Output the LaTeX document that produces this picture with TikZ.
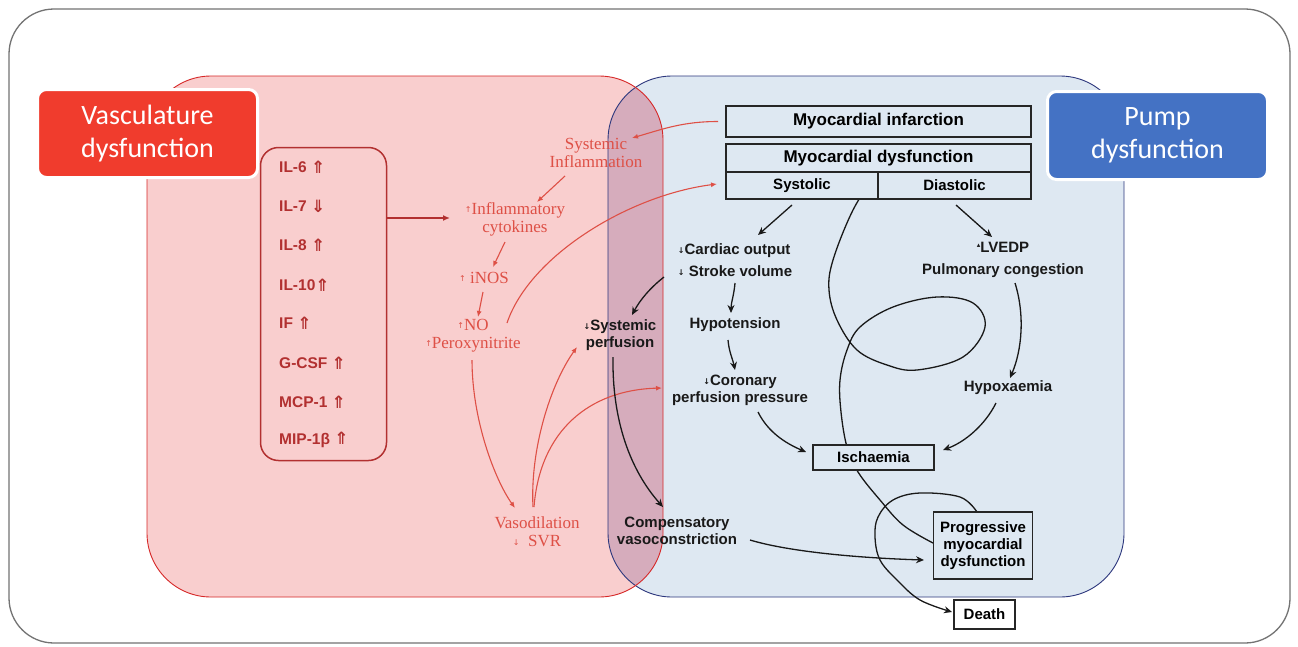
\documentclass[tikz,border=0pt]{standalone}
\usepackage{fontspec}
\setmainfont{Liberation Serif}
\newfontfamily\arialf{Liberation Sans}
\newfontfamily\labf{Carlito}
\newfontfamily\symf{DejaVu Sans}
\usetikzlibrary{arrows.meta,calc}
\pgfdeclarelayer{bg}
\pgfdeclarelayer{mid}
\pgfsetlayers{bg,mid,main}
\definecolor{pinkfill}{RGB}{249,206,206}
\definecolor{bluefill}{RGB}{222,232,242}
\definecolor{overlapc}{RGB}{214,172,188}
\definecolor{redline}{RGB}{214,40,40}
\definecolor{blueline}{RGB}{45,55,125}
\definecolor{labred}{RGB}{240,60,45}
\definecolor{labblue}{RGB}{68,114,196}
\definecolor{cytored}{RGB}{178,48,48}
\definecolor{salmon}{RGB}{222,80,70}
\definecolor{framec}{RGB}{115,115,115}
\newcommand{\myup}{\raisebox{2pt}{\symf\fontsize{8}{8}\selectfont ↑}}
\newcommand{\mydn}{\raisebox{1pt}{\symf\fontsize{8}{8}\selectfont ↓}}
\newcommand{\myuptri}{\raisebox{5pt}{\symf\fontsize{7}{7}\selectfont ▴}}
\newcommand{\dblup}{\raisebox{-0.5pt}{\symf\fontsize{17}{17}\selectfont ⇑}}
\newcommand{\dbldn}{\raisebox{-0.5pt}{\symf\fontsize{17}{17}\selectfont ⇓}}
\begin{document}
\begin{tikzpicture}[x=1pt,y=-1pt,
  box/.style={draw=black!85, line width=1.1pt, fill=bluefill, inner sep=0pt, outer sep=0pt,
    font=\arialf\bfseries\fontsize{15}{17}\selectfont, align=center},
  hbox/.style={box, font=\arialf\bfseries\fontsize{17}{19}\selectfont},
  blk/.style={font=\arialf\bfseries\fontsize{15}{17}\selectfont, align=center, inner sep=1pt, text=black!90},
  rtxt/.style={font=\fontsize{17}{18}\selectfont, text=salmon, align=center, inner sep=1pt},
  cyt/.style={font=\arialf\bfseries\fontsize{15.5}{17}\selectfont, text=cytored, anchor=west, inner sep=0pt},
  lab/.style={rounded corners=9pt, draw=white, line width=3pt, text=white,
    font=\labf\fontsize{28}{33}\selectfont, align=center, minimum width=220pt, minimum height=88pt, inner sep=0pt},
  rarr/.style={salmon, line width=1.1pt, -{Latex[length=6pt,width=5pt]}},
  barr/.style={black!90, line width=1.3pt, -{Stealth[length=8pt,width=7pt]}},
  bline/.style={black!90, line width=1.3pt}
]
\useasboundingbox (0,0) rectangle (1298,646);

\begin{pgfonlayer}{bg}
  \fill[white] (0,0) rectangle (1298,646);
  \draw[framec, line width=1.3pt, rounded corners=45pt] (9,9) rectangle (1290,643);
  \fill[pinkfill, rounded corners=64pt] (147,76) rectangle (663,597);
  \fill[bluefill, rounded corners=64pt] (608,76) rectangle (1124,597);
  \begin{scope}
    \clip[rounded corners=64pt] (147,76) rectangle (663,597);
    \fill[overlapc, rounded corners=64pt] (608,76) rectangle (1124,597);
  \end{scope}
  \draw[blueline, line width=0.9pt, rounded corners=64pt] (608,76) rectangle (1124,597);
  \draw[redline, line width=0.9pt, rounded corners=64pt] (147,76) rectangle (663,597);
\end{pgfonlayer}

% labels
\node[lab, fill=labred] (vlab) at (147.5,133.5) {Vasculature\\dysfunction};
\node[lab, fill=labblue] (plab) at (1157.5,135.5) {Pump\\dysfunction};

% cytokine box
\node[draw=cytored, line width=1.5pt, rounded corners=18pt, minimum width=126pt, minimum height=313pt, inner sep=0pt] (cyto) at (323.5,304) {};
\node[cyt] (c1) at (279,167) {IL-6 \dblup};
\node[cyt] (c2) at (279,206) {IL-7 \dbldn};
\node[cyt] (c3) at (279,245) {IL-8 \dblup};
\node[cyt] (c4) at (279,285) {IL-10\dblup};
\node[cyt] (c5) at (279,323) {IF \dblup};
\node[cyt] (c6) at (279,363) {G-CSF \dblup};
\node[cyt] (c7) at (279,402) {MCP-1 \dblup};
\node[cyt] (c8) at (279,440) {MIP-1β \dblup};

% red texts
\node[rtxt] (sysinf) at (596,153) {Systemic\\Inflammation};
\node[rtxt] (inflcyt) at (515,219) {\myup Inflammatory\\cytokines};
\node[rtxt] (inos) at (484,278) {\myup\ iNOS};
\node[rtxt] (no) at (473,336) {\myup NO\\\myup Peroxynitrite};
\node[rtxt] (vaso) at (537,532) {Vasodilation\\\mydn\ \ SVR};

% black boxes
\node[hbox, minimum width=305pt, minimum height=31pt] (mi) at (878.5,121.5) {Myocardial infarction};
\node[hbox, minimum width=305pt, minimum height=28pt] (md) at (878.5,158) {Myocardial dysfunction};
\node[box, minimum width=152pt, minimum height=27pt] (sys) at (802,185.5) {Systolic};
\node[box, minimum width=153pt, minimum height=27pt] (dia) at (954.5,185.5) {Diastolic};
\node[box, minimum width=121pt, minimum height=25pt] (isch) at (873.5,457.5) {Ischaemia};
\node[box, minimum width=99pt, minimum height=67pt] (prog) at (983,545.5) {Progressive\\myocardial\\dysfunction};
\node[box, minimum width=61pt, minimum height=29pt, fill=white] (death) at (984.5,614.5) {Death};

% black texts
\node[blk, font=\arialf\bfseries\fontsize{15}{22}\selectfont, align=left] (card) at (735,260) {\mydn Cardiac output\\\mydn\ Stroke volume};
\node[blk, font=\arialf\bfseries\fontsize{15}{22}\selectfont] (lvedp) at (1003,260) {\myuptri LVEDP\\Pulmonary congestion};
\node[blk] (hypo) at (735,325) {Hypotension};
\node[blk] (cor) at (740,390) {\mydn Coronary\\perfusion pressure};
\node[blk] (hypox) at (1008,388) {Hypoxaemia};
\node[blk] (sysp) at (620,335) {\mydn Systemic\\perfusion};
\node[blk] (comp) at (677,531) {Compensatory\\vasoconstriction};

% red arrows
\draw[cytored, line width=1.5pt, -{Latex[length=7pt,width=6pt]}] ($(cyto)+(63,-86)$) -- ($(inflcyt)+(-65,-1)$);
\draw[rarr] ($(mi)+(-160.5,0)$) .. controls (683,121.5) and (663,129) .. ($(sysinf)+(36,-15)$);
\draw[rarr] ($(sysinf)+(-31,23)$) -- ($(inflcyt)+(22,-17)$);
\draw[rarr] ($(inflcyt)+(-10,23)$) -- ($(inos)+(9,-11)$);
\draw[rarr] ($(inos)+(-1,14)$) -- ($(no)+(5,-19)$);
\draw[rarr] ($(no)+(34,-13)$) .. controls (530,255) and (630,195) .. ($(sys)+(-85,-1.5)$);
\draw[rarr] ($(no)+(-1,24)$) .. controls (472,420) and (495,480) .. ($(vaso)+(-22,-24)$);
\draw[rarr] ($(vaso)+(-4,-25)$) .. controls (530,450) and (550,385) .. ($(sysp)+(-43,12)$);
\draw[rarr] ($(vaso)+(-3,-25)$) .. controls (540,430) and (590,390) .. ($(cor)+(-78,-2)$);

% black arrows
\draw[barr] ($(sys)+(-10,19.5)$) -- ($(card)+(23,-25)$);
\draw[barr] ($(dia)+(1.5,19.5)$) -- ($(lvedp)+(-11,-23)$);
\draw[barr] ($(card)+(-71,17)$) .. controls (650,288) and (640,300) .. ($(sysp)+(12,-20)$);
\draw[barr] ($(card)+(0,23)$) .. controls (734,295) and (731,303) .. ($(hypo)+(-4,-12)$);
\draw[barr] ($(hypo)+(-7,15)$) .. controls (729,352) and (733,360) .. ($(cor)+(-5,-20)$);
\draw[barr] ($(cor)+(18,22)$) .. controls (768,432) and (785,443) .. ($(isch)+(-67.5,-5.5)$);
\draw[barr] ($(hypox)+(-12,15)$) .. controls (985,425) and (965,442) .. ($(isch)+(69.5,-7.5)$);
\draw[barr] ($(lvedp)+(12,23)$) .. controls (1025,315) and (1022,350) .. ($(hypox)+(2,-10)$);
\draw[barr] ($(sysp)+(-7,22)$) .. controls (612,420) and (630,470) .. ($(comp)+(-14,-24)$);
\draw[barr] ($(comp)+(73,9)$) .. controls (790,552) and (860,558) .. ($(prog)+(-59,14.5)$);

\begin{pgfonlayer}{mid}
  \draw[bline] plot[smooth, tension=0.6] coordinates {($(md)+(-1.5,14)$) (853,210) (833,260) (829,290) (837,320) (857,350) (887,365) (917,370) (963,357) (985,327) (973,303) (937,297) (893,307) (860,327) (847,350) (840,380) (841,412) (847,447) (858,472) (880,500) (903,525) ($(prog)+(-50,-2.5)$)};
  \draw[barr] plot[smooth, tension=0.6] coordinates {($(prog)+(-6,-33.5)$) (960,497) (920,493) (893,500) (878,517) (875,537) (880,560) (897,580) (920,600) ($(death)+(-32.5,-2.5)$)};
\end{pgfonlayer}
\end{tikzpicture}
\end{document}
